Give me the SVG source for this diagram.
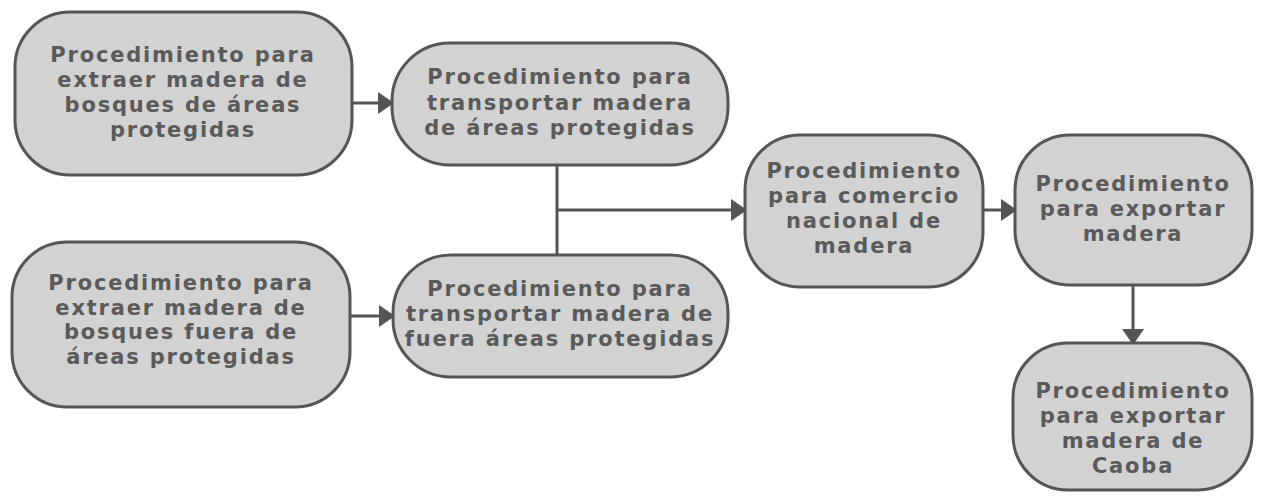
<svg xmlns="http://www.w3.org/2000/svg" width="1280" height="499" viewBox="0 0 1280 499">
<style>
.box{fill:#d2d2d2;stroke:#555;stroke-width:3}
.t{font-family:"DejaVu Sans","Liberation Sans",Arial,sans-serif;font-weight:bold;font-size:21px;fill:#5a5a5a;text-anchor:middle;letter-spacing:1.8px}
.c{fill:none;stroke:#555;stroke-width:3}
</style>
<defs>
<marker id="ah2" markerWidth="16" markerHeight="22" refX="15" refY="11" orient="auto" markerUnits="userSpaceOnUse" viewBox="0 0 16 22">
<path d="M0,0 L16,11 L0,22 Z" fill="#555"/>
</marker>
</defs>
<rect width="1280" height="499" fill="#fff"/>
<g id="connectors">
<line class="c" x1="352" y1="103" x2="393" y2="103" marker-end="url(#ah2)"/>
<line class="c" x1="350" y1="316" x2="394" y2="316" marker-end="url(#ah2)"/>
<line class="c" x1="557" y1="165" x2="557" y2="255"/>
<line class="c" x1="557" y1="210" x2="746" y2="210" marker-end="url(#ah2)"/>
<line class="c" x1="983" y1="210" x2="1016" y2="210" marker-end="url(#ah2)"/>
<line class="c" x1="1133" y1="285" x2="1133" y2="344" marker-end="url(#ah2)"/>
</g>
<g id="n1">
<rect class="box" x="15" y="12" width="337" height="163" rx="55"/>
<text class="t"><tspan x="183" y="62">Procedimiento para</tspan><tspan x="183" y="87">extraer madera de</tspan><tspan x="183" y="112">bosques de áreas</tspan><tspan x="183" y="137">protegidas</tspan></text>
</g>
<g id="n2">
<rect class="box" x="392" y="43" width="336" height="122" rx="58"/>
<text class="t"><tspan x="560" y="84">Procedimiento para</tspan><tspan x="560" y="110">transportar madera</tspan><tspan x="560" y="135">de áreas protegidas</tspan></text>
</g>
<g id="n3">
<rect class="box" x="12" y="242" width="338" height="165" rx="55"/>
<text class="t"><tspan x="181" y="290">Procedimiento para</tspan><tspan x="181" y="315">extraer madera de</tspan><tspan x="181" y="339">bosques fuera de</tspan><tspan x="181" y="364">áreas protegidas</tspan></text>
</g>
<g id="n4">
<rect class="box" x="393" y="255" width="335" height="122" rx="58"/>
<text class="t"><tspan x="560" y="296">Procedimiento para</tspan><tspan x="560" y="321">transportar madera de</tspan><tspan x="560" y="346">fuera áreas protegidas</tspan></text>
</g>
<g id="n5">
<rect class="box" x="745" y="135" width="238" height="152" rx="55"/>
<text class="t"><tspan x="864" y="178">Procedimiento</tspan><tspan x="864" y="203">para comercio</tspan><tspan x="864" y="228">nacional de</tspan><tspan x="864" y="253">madera</tspan></text>
</g>
<g id="n6">
<rect class="box" x="1015" y="135" width="237" height="150" rx="55"/>
<text class="t"><tspan x="1133" y="191">Procedimiento</tspan><tspan x="1133" y="216">para exportar</tspan><tspan x="1133" y="241">madera</tspan></text>
</g>
<g id="n7">
<rect class="box" x="1013" y="343" width="239" height="147" rx="55"/>
<text class="t"><tspan x="1133" y="398">Procedimiento</tspan><tspan x="1133" y="423">para exportar</tspan><tspan x="1133" y="448">madera de</tspan><tspan x="1133" y="473">Caoba</tspan></text>
</g>
</svg>
